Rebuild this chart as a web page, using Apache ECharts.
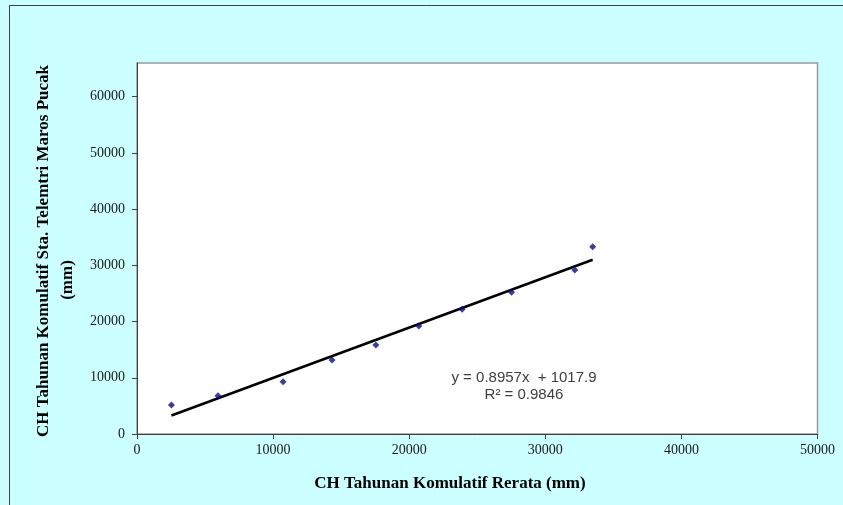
<!DOCTYPE html>
<html>
<head>
<meta charset="utf-8">
<script src="https://cdn.jsdelivr.net/npm/echarts@6/dist/echarts.min.js"></script>
<style>
  html, body { margin: 0; padding: 0; background: #ccffff; }
  #chart { width: 843px; height: 505px; }
</style>
</head>
<body>
<div id="chart"></div>
<script>
// Cumulative annual rainfall: station average (x) vs. Sta. Telemetri Maros Pucak (y), in mm
const rerataKumulatif = [2530, 5950, 10730, 14330, 17550, 20710, 23890, 27520, 32170, 33480];
const marosPucakKumulatif = [5160, 6820, 9310, 13170, 15840, 19220, 22190, 25210, 29180, 33330];

// Axis tick labels
const xTicks = [0, 10000, 20000, 30000, 40000, 50000];
const yTicks = [0, 10000, 20000, 30000, 40000, 50000, 60000];

// Linear trendline parameters
const slope = 0.8957;
const intercept = 1017.9;
const rSquared = 0.9846;

const xTitle = 'CH Tahunan Komulatif Rerata (mm)';
const yTitleLine1 = 'CH Tahunan Komulatif Sta. Telemtri Maros Pucak';
const yTitleLine2 = '(mm)';

const points = rerataKumulatif.map((x, i) => [x, marosPucakKumulatif[i]]);
const xMin = Math.min(...rerataKumulatif);
const xMax = Math.max(...rerataKumulatif);
const trend = [[xMin, slope * xMin + intercept], [xMax, slope * xMax + intercept]];

const serif = '"Liberation Serif", "Times New Roman", serif';
const sans = '"Liberation Sans", Arial, sans-serif';

const chart = echarts.init(document.getElementById('chart'));
chart.setOption({
  backgroundColor: '#ccffff',
  animation: false,
  grid: {
    left: 137, right: 25.5, top: 63, bottom: 71,
    show: true, backgroundColor: '#ffffff', borderColor: '#9a9a9a', borderWidth: 1.5
  },
  xAxis: {
    type: 'value', min: 0, max: 50000,
    axisLine: { show: true, onZero: false, lineStyle: { color: '#404040', width: 1 } },
    axisTick: { show: true, inside: false, length: 5, customValues: xTicks, lineStyle: { color: '#404040' } },
    axisLabel: {
      margin: 9, fontFamily: serif, fontSize: 14, color: '#1a1a1a',
      customValues: xTicks, formatter: v => String(v)
    },
    splitLine: { show: false }
  },
  yAxis: {
    type: 'value', min: 0, max: 66000,
    axisLine: { show: true, onZero: false, lineStyle: { color: '#404040', width: 1 } },
    axisTick: { show: true, inside: false, length: 5, customValues: yTicks, lineStyle: { color: '#404040' } },
    axisLabel: {
      margin: 12, fontFamily: serif, fontSize: 14, color: '#1a1a1a',
      customValues: yTicks, formatter: v => String(v)
    },
    splitLine: { show: false }
  },
  series: [
    {
      type: 'line', data: trend, symbol: 'none', silent: true,
      lineStyle: { color: '#000000', width: 2.5 }, z: 2
    },
    {
      type: 'scatter', data: points, symbol: 'diamond', symbolSize: 7,
      itemStyle: { color: '#0c0c88' }, z: 3
    }
  ],
  graphic: [
    {
      type: 'rect', silent: true, z: 100,
      shape: { x: 9.5, y: 5.5, width: 900, height: 600 },
      style: { fill: 'none', stroke: '#404040', lineWidth: 1 }
    },
    {
      type: 'text', x: 524, y: 378, z: 100,
      style: {
        text: 'y = ' + slope.toFixed(4) + 'x  + ' + intercept.toFixed(1),
        font: '15px ' + sans, fill: '#404040', align: 'center', verticalAlign: 'middle'
      }
    },
    {
      type: 'text', x: 524, y: 395, z: 100,
      style: {
        text: 'R² = ' + rSquared.toFixed(4),
        font: '15px ' + sans, fill: '#404040', align: 'center', verticalAlign: 'middle'
      }
    },
    {
      type: 'text', x: 450, y: 484, z: 100,
      style: {
        text: xTitle, font: 'bold 17px ' + serif, fill: '#000',
        align: 'center', verticalAlign: 'middle'
      }
    },
    {
      type: 'text', x: 44, y: 251, rotation: Math.PI / 2, z: 100,
      style: {
        text: yTitleLine1, font: 'bold 17px ' + serif, fill: '#000',
        align: 'center', verticalAlign: 'middle'
      }
    },
    {
      type: 'text', x: 68, y: 280, rotation: Math.PI / 2, z: 100,
      style: {
        text: yTitleLine2, font: 'bold 17px ' + serif, fill: '#000',
        align: 'center', verticalAlign: 'middle'
      }
    }
  ]
});
</script>
</body>
</html>
